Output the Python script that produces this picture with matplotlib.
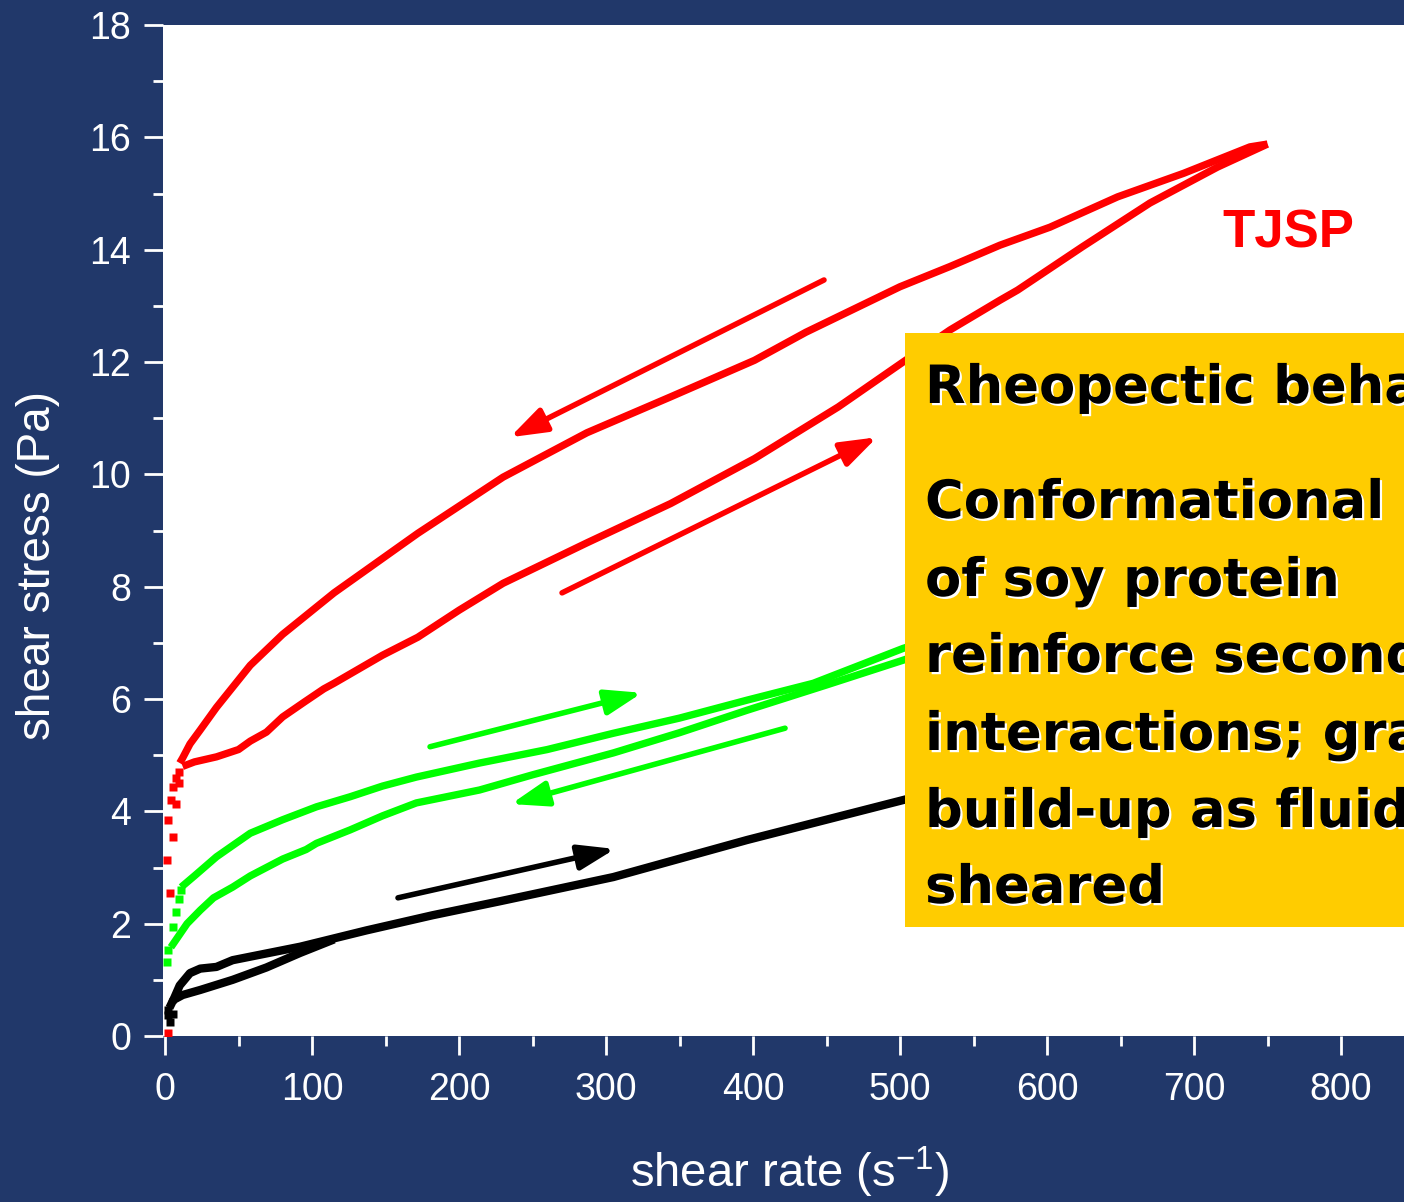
import matplotlib

matplotlib.use("Agg")
import matplotlib.pyplot as plt
import matplotlib.patheffects as pe
from matplotlib.patches import Rectangle
from matplotlib.ticker import MultipleLocator

plt.rcParams['font.family'] = ['Liberation Sans', 'DejaVu Sans']

# ---- data (shear rate in 1/s, shear stress in Pa) ----
red_up_x = [12, 20, 35, 50, 58, 69, 80, 95, 108, 115, 148, 172, 200, 230, 287, 344,
            401, 458, 501, 534, 568, 580, 624, 670, 716, 750]
red_up_y = [4.80, 4.88, 4.97, 5.10, 5.25, 5.41, 5.68, 5.95, 6.18, 6.28, 6.78, 7.10,
            7.58, 8.06, 8.78, 9.48, 10.28, 11.20, 11.98, 12.57, 13.10, 13.28, 14.05,
            14.83, 15.47, 15.88]
red_down_x = [750, 738, 693, 648, 602, 568, 534, 500, 436, 401, 344, 287, 230, 172,
              115, 80, 58, 35, 24, 17, 12, 10]
red_down_y = [15.88, 15.83, 15.36, 14.94, 14.40, 14.08, 13.70, 13.34, 12.53, 12.03,
              11.38, 10.74, 9.95, 8.95, 7.89, 7.15, 6.60, 5.85, 5.45, 5.20, 4.95, 4.86]
red_start_x = [2, 3.4, 1.4, 2, 5.4, 4, 7.5, 5.4, 9.5, 7.5, 9.5]
red_start_y = [0.05, 2.55, 3.13, 3.85, 3.55, 4.2, 4.13, 4.43, 4.5, 4.6, 4.7]

green_up_x = [11, 20, 35, 58, 80, 103, 126, 148, 171, 214, 260, 305, 350, 396, 441,
              502, 520]
green_up_y = [2.65, 2.85, 3.19, 3.61, 3.85, 4.08, 4.26, 4.45, 4.61, 4.86, 5.10, 5.39,
              5.66, 5.98, 6.28, 6.90, 7.05]
green_down_x = [4, 15, 24, 33, 46, 58, 69, 80, 96, 103, 126, 148, 171, 214, 250, 305,
                350, 396, 450, 502, 520]
green_down_y = [1.58, 2.00, 2.24, 2.46, 2.65, 2.85, 3.00, 3.15, 3.32, 3.43, 3.67,
                3.92, 4.15, 4.38, 4.65, 5.04, 5.40, 5.80, 6.25, 6.69, 6.85]
green_start_x = [1.4, 2, 5.4, 7.5, 9.5, 10.9]
green_start_y = [1.32, 1.53, 1.94, 2.20, 2.44, 2.60]

black_up_x = [5, 10, 17, 24, 35, 46, 69, 92, 137, 182, 228, 305, 396, 502, 520]
black_up_y = [0.60, 0.90, 1.12, 1.20, 1.23, 1.35, 1.47, 1.59, 1.88, 2.15, 2.40, 2.83,
              3.49, 4.20, 4.32]
black_down_x = [3, 5.6, 12, 24, 46, 69, 92, 115]
black_down_y = [0.50, 0.64, 0.73, 0.82, 1.00, 1.22, 1.48, 1.72]
black_start_x = [2, 2, 3.4, 5.4]
black_start_y = [0.46, 0.37, 0.25, 0.40]

x_ticks = [0, 100, 200, 300, 400, 500, 600, 700, 800]

# direction arrows: (tail, tip, colour)
arrows = [
    ((448.3, 13.46), (234.7, 10.66), '#ff0000'),
    ((270.1, 7.89), (484.4, 10.66), '#ff0000'),
    ((180.3, 5.15), (324.5, 6.11), '#00ff00'),
    ((421.8, 5.48), (235.4, 4.13), '#00ff00'),
    ((158.5, 2.46), (306.1, 3.33), '#000000'),
]

box_lines = ['Rheopectic behavior', 'Conformational changes', 'of soy protein',
             'reinforce secondary', 'interactions; gradual', 'build-up as fluid is',
             'sheared']
box_baselines = [403, 518, 596, 672, 750, 827, 903]

W, H = 1404, 1202
navy = '#21386a'

fig = plt.figure(figsize=(W / 100, H / 100), dpi=100, facecolor=navy)
ax = fig.add_axes([162.8 / W, (H - 1036) / H, (1488 - 162.8) / W, (1036 - 25) / H])
ax.set_facecolor('white')
ax.set_xlim(-1.5, 900)
ax.set_ylim(0, 18)
for s in ax.spines.values():
    s.set_visible(False)

ax.set_xticks(x_ticks)
ax.xaxis.set_minor_locator(MultipleLocator(50))
ax.yaxis.set_major_locator(MultipleLocator(2))
ax.yaxis.set_minor_locator(MultipleLocator(1))
ax.tick_params(which='both', direction='out', color='white', width=2,
               labelcolor='white', labelsize=27)
ax.tick_params(which='major', length=13.7)
ax.tick_params(which='minor', length=7.2)
ax.tick_params(axis='x', pad=12)
ax.tick_params(axis='y', pad=9)

lw = 5.3
ax.plot(red_up_x, red_up_y, color='#ff0000', lw=lw, solid_capstyle='butt', zorder=3)
ax.plot(red_down_x, red_down_y, color='#ff0000', lw=lw, solid_capstyle='butt', zorder=3)
ax.plot(red_start_x, red_start_y, 's', color='#ff0000', ms=6, mec='none', zorder=3)
ax.plot(green_up_x, green_up_y, color='#00ff00', lw=lw, solid_capstyle='butt', zorder=3)
ax.plot(green_down_x, green_down_y, color='#00ff00', lw=lw, solid_capstyle='butt', zorder=3)
ax.plot(green_start_x, green_start_y, 's', color='#00ff00', ms=6, mec='none', zorder=3)
ax.plot(black_up_x, black_up_y, color='black', lw=6, solid_capstyle='butt', zorder=3)
ax.plot(black_down_x, black_down_y, color='black', lw=6, solid_capstyle='butt', zorder=3)
ax.plot(black_start_x, black_start_y, 's', color='black', ms=6, mec='none', zorder=3)

for tail, tip, c in arrows:
    ax.annotate('', xy=tip, xytext=tail,
                arrowprops=dict(arrowstyle='-|>,head_length=1.1,head_width=0.38',
                                mutation_scale=20, lw=4, color=c,
                                shrinkA=0, shrinkB=0, capstyle='round'),
                zorder=4)

# yellow note box
ax.add_patch(Rectangle((503.4, 1.94), 600, 10.58, facecolor='#ffcc00',
                       edgecolor='none', zorder=5, clip_on=False))
shadow = [pe.withSimplePatchShadow(offset=(1.6, -1.6), shadow_rgbFace='white', alpha=1.0)]
for line, base in zip(box_lines, box_baselines):
    fig.text(925 / W, 1 - base / H, line, fontsize=38, fontweight='bold',
             family=['DejaVu Sans'], color='black', va='baseline',
             ha='left', zorder=6, path_effects=shadow)

fig.text(1222 / W, 1 - 248 / H, 'TJSP', fontsize=38, fontweight='bold',
         color='#ff0000', va='baseline', ha='left')

fig.text(790 / W, 1 - 1172 / H, r'shear rate (s$^{\mathregular{-1}}$)',
         fontsize=34, color='white', ha='center', va='center')
fig.text(38 / W, 1 - 565 / H, 'shear stress (Pa)', fontsize=33, color='white',
         rotation=90, ha='center', va='center')

fig.savefig('out.png', dpi=100, facecolor=navy)
